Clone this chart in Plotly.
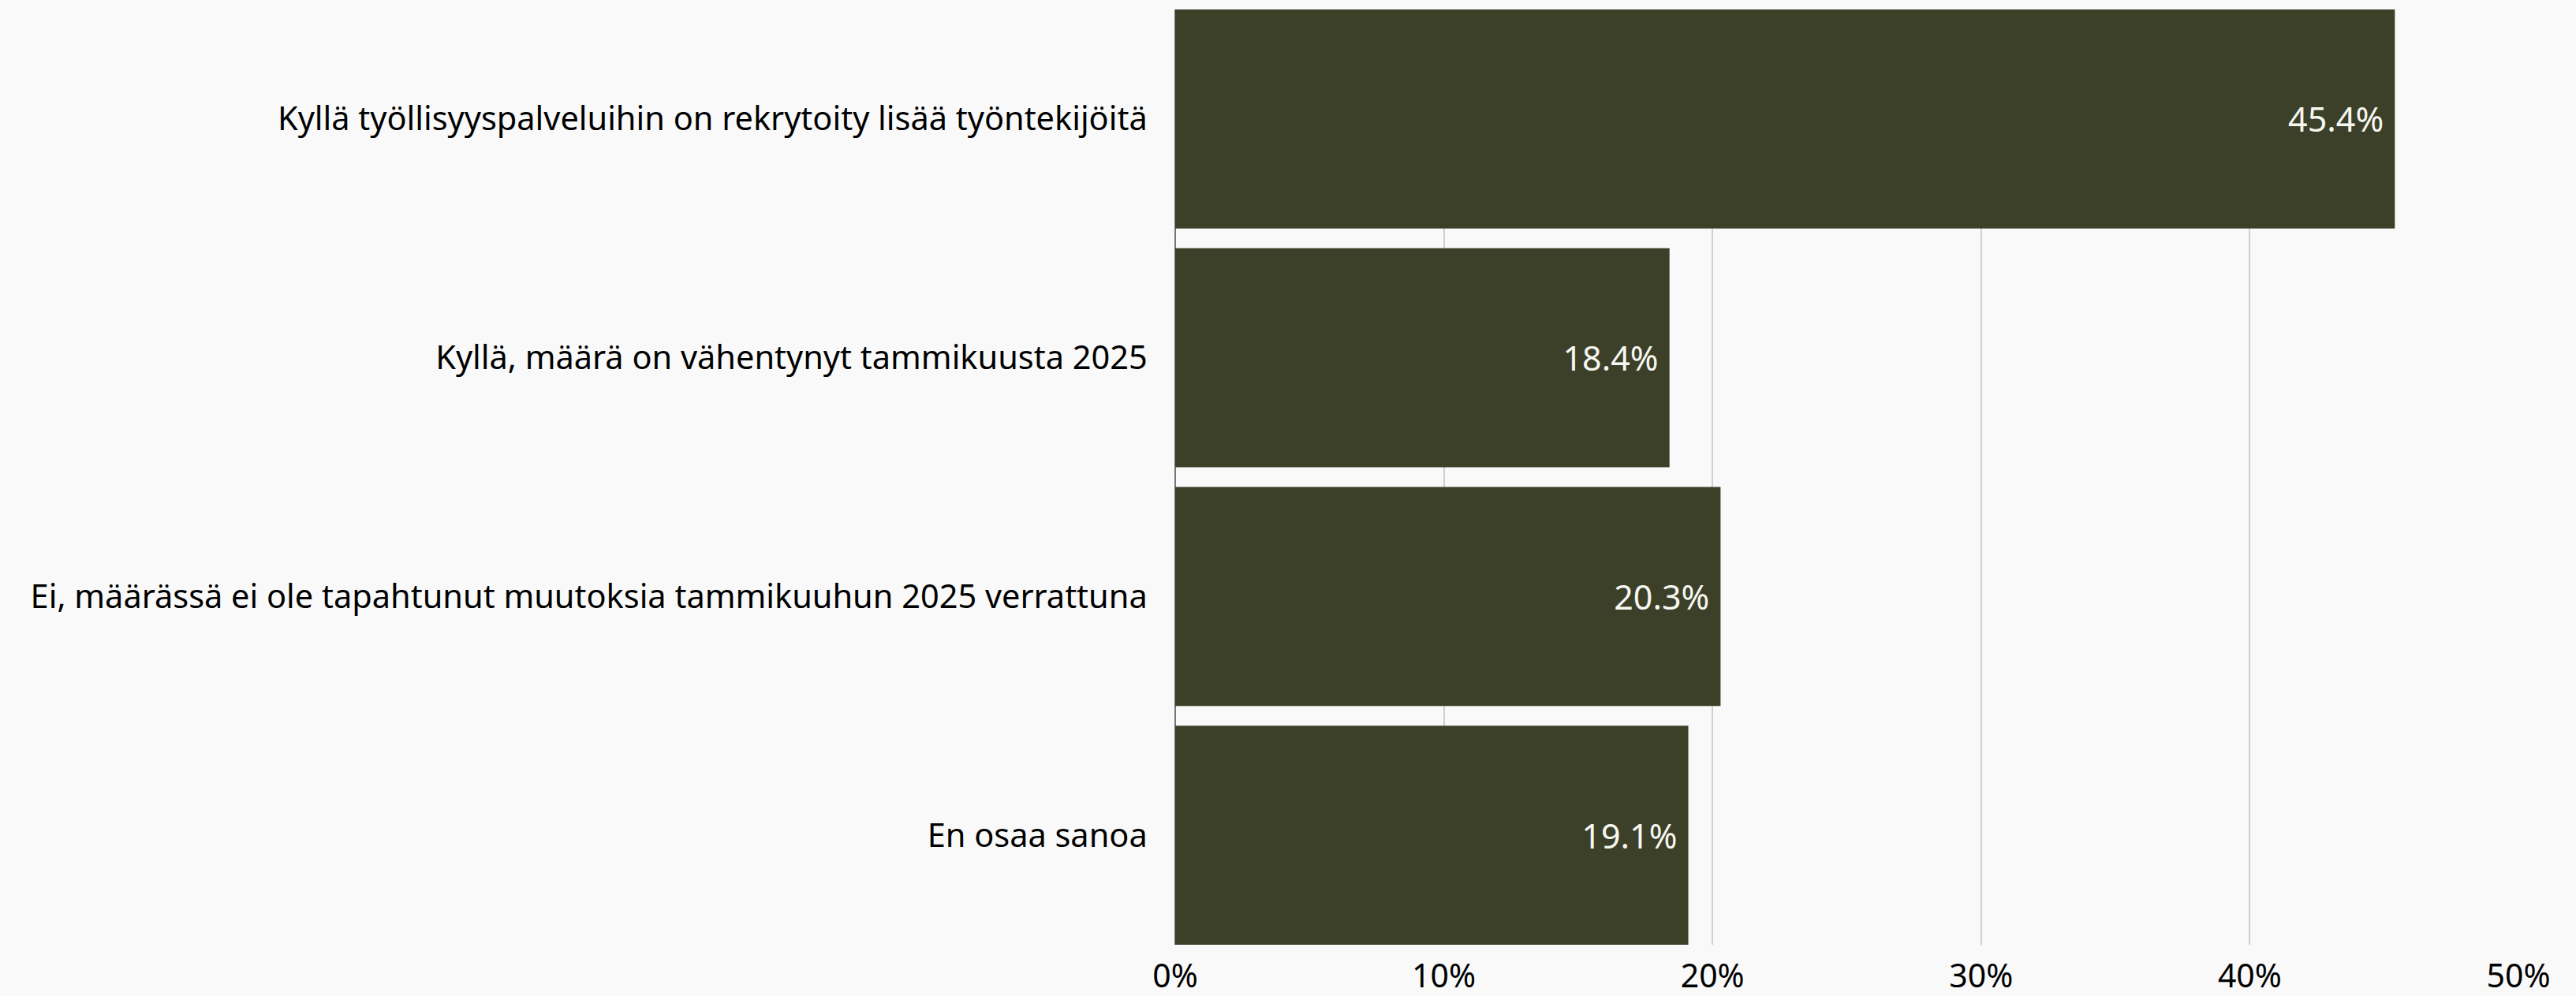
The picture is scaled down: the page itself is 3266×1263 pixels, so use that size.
import plotly.graph_objects as go

##----------------------------------------------------------------------------##
#Data
categories = ['Kyllä työllisyyspalveluihin on rekrytoity lisää työntekijöitä',
              'Kyllä, määrä on vähentynyt tammikuusta 2025',
              'Ei, määrässä ei ole tapahtunut muutoksia tammikuuhun 2025 verrattuna',
              'En osaa sanoa']
shares = [45.4, 18.4, 20.3, 19.1]
tick_values = [0, 10, 20, 30, 40, 50]
tick_labels = ['0%', '10%', '20%', '30%', '40%', '50%']
##----------------------------------------------------------------------------##

font_name = 'Noto Sans'
bar_gap = 0.083
half = (1 - bar_gap) / 2

fig = go.Figure(go.Bar(
    x=shares, y=categories, orientation='h',
    marker=dict(color='#3C4029', line=dict(width=0)),
    texttemplate='%{x:.1f}%\u00a0',
    textposition='inside', insidetextanchor='end',
    textfont=dict(family=font_name, size=43, color='#F7F7F2'),
    hoverinfo='skip'))

fig.update_layout(
    width=3266, height=1263,
    margin=dict(l=1490, r=73, t=12, b=65, autoexpand=False),
    paper_bgcolor='#F9F9F9', plot_bgcolor='#F9F9F9',
    bargap=bar_gap, showlegend=False,
    font=dict(family=font_name, size=42, color='#000000'))

fig.update_xaxes(
    range=[0, 50], tickvals=tick_values, ticktext=tick_labels,
    showgrid=True, gridcolor='#CFCFCF', gridwidth=2,
    zeroline=True, zerolinecolor='#777777', zerolinewidth=2,
    showline=False, ticks='outside', ticklen=4, tickcolor='rgba(0,0,0,0)',
    tickfont=dict(family=font_name, size=41, color='#000000'))

fig.update_yaxes(
    type='category', categoryarray=categories,
    range=[len(categories) - 1 + half, -half],
    showgrid=False, showline=False, ticks='outside', ticklen=26,
    tickcolor='rgba(0,0,0,0)',
    tickfont=dict(family=font_name, size=41.5, color='#000000'))

#drop the default page margin so the figure fills the window
fig.write_html("out.html", config={'displayModeBar': False},
               post_script="document.body.style.margin='0';")
